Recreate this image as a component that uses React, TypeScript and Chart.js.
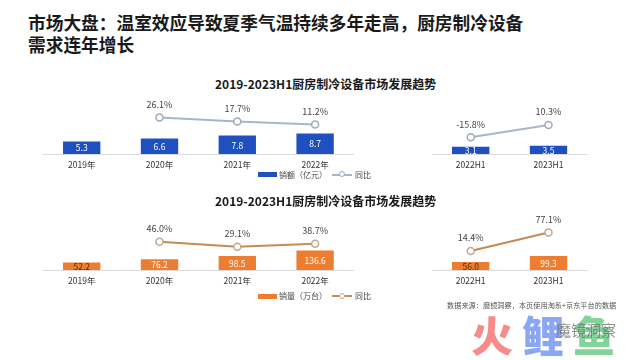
import React, { useEffect, useRef } from 'react';
import { Chart, registerables } from 'chart.js';

Chart.register(...registerables);

const FONT = '"Noto Sans CJK SC", "Noto Sans", sans-serif';

// ---- data ----
const categories = ['2019年', '2020年', '2021年', '2022年', '', '2022H1', '2023H1'];
const panelRanges = [[0, 3], [5, 6]];
const salesValue = [5.3, 6.6, 7.8, 8.7, null, 3.1, 3.5];
const salesValueYoY = [null, 26.1, 17.7, 11.2, null, -15.8, 10.3];
const salesVolume = [52.2, 76.2, 98.5, 136.6, null, 56.0, 99.3];
const salesVolumeYoY = [null, 46.0, 29.1, 38.7, null, 14.4, 77.1];
const valueLabelColors = ['#fff', '#fff', '#fff', '#fff', '#fff', '#fff', '#fff'];
const volumeLabelColors = ['#5a2a08', '#fff', '#fff', '#fff', '#fff', '#5a2a08', '#fff'];

const labelsPlugin = {
  id: 'valueLabels',
  afterDatasetsDraw(chart: any, _args: any, opts: any) {
    const ctx = chart.ctx;
    chart.data.datasets.forEach((ds: any, i: number) => {
      const meta = chart.getDatasetMeta(i);
      meta.data.forEach((el: any, j: number) => {
        const v = ds.data[j];
        if (v == null) return;
        ctx.save();
        ctx.textAlign = 'center';
        ctx.textBaseline = 'middle';
        if (meta.type === 'bar') {
          const p = el.getProps(['x', 'y', 'base'], true);
          ctx.fillStyle = opts.barColors[j];
          ctx.font = `8.5px ${FONT}`;
          ctx.fillText(v.toFixed(1), p.x, (p.y + p.base) / 2 + 0.5);
        } else {
          ctx.fillStyle = '#444';
          ctx.font = `9px ${FONT}`;
          ctx.fillText(v.toFixed(1) + '%', el.x, el.y - 13);
        }
        ctx.restore();
      });
    });
  },
};

const baselinePlugin = {
  id: 'panelBaseline',
  beforeDatasetsDraw(chart: any) {
    const ctx = chart.ctx;
    const x = chart.scales.x;
    const y = chart.scales.yBar.getPixelForValue(0);
    const half = x.width / categories.length / 2;
    ctx.save();
    ctx.strokeStyle = '#dcdcdc';
    ctx.lineWidth = 1;
    panelRanges.forEach(([a, b]) => {
      ctx.beginPath();
      ctx.moveTo(x.getPixelForValue(a) - half, y + 0.5);
      ctx.lineTo(x.getPixelForValue(b) + half, y + 0.5);
      ctx.stroke();
    });
    ctx.restore();
  },
};

function makeConfig(bars: any[], line: any[], barColor: string, lineColor: string, pointBorder: string,
  barMax: number, lineMin: number, lineMax: number, labelColors: string[], barLabel: string) {
  return {
    type: 'bar' as const,
    data: {
      labels: categories,
      datasets: [
        {
          type: 'line' as const,
          label: '同比',
          data: line,
          yAxisID: 'yLine',
          borderColor: lineColor,
          borderWidth: 2,
          pointRadius: 3.5,
          pointBorderWidth: 1.5,
          pointBackgroundColor: '#fff',
          pointBorderColor: pointBorder,
          spanGaps: false,
          order: 0,
        },
        {
          type: 'bar' as const,
          label: barLabel,
          data: bars,
          yAxisID: 'yBar',
          backgroundColor: barColor,
          categoryPercentage: 1,
          barPercentage: 0.48,
          order: 1,
        },
      ],
    },
    options: {
      animation: false,
      responsive: false,
      maintainAspectRatio: false,
      layout: { padding: { left: 42.8, right: 52.6, top: 10, bottom: 0 } },
      plugins: {
        legend: { display: false },
        tooltip: { enabled: false },
        valueLabels: { barColors: labelColors },
      },
      scales: {
        x: {
          type: 'category',
          offset: true,
          grid: { display: false, drawTicks: false },
          border: { display: false },
          ticks: { font: { size: 8.5, family: FONT }, color: '#333', padding: 6, maxRotation: 0, autoSkip: false },
          afterFit: (s: any) => { s.height = 21; },
        },
        yBar: { display: false, min: 0, max: barMax },
        yLine: { display: false, min: lineMin, max: lineMax },
      },
    },
    plugins: [labelsPlugin, baselinePlugin],
  };
}

function ChartCanvas({ config, top, height }: { config: any; top: number; height: number }) {
  const ref = useRef<HTMLCanvasElement>(null);
  useEffect(() => {
    const c = new Chart(ref.current as HTMLCanvasElement, config);
    return () => c.destroy();
  }, []);
  return (
    <canvas ref={ref} width={640} height={height}
      style={{ position: 'absolute', left: 0, top, width: 640, height }} />
  );
}

function Legend({ top, barColor, lineColor, pointBorder, text }: any) {
  return (
    <div style={{ position: 'absolute', left: 0, top: top - 6, height: 12, width: 640, fontFamily: FONT, fontSize: 8, color: '#444' }}>
      <div style={{ position: 'absolute', left: 258, top: 3.5, width: 19, height: 5, background: barColor }} />
      <div style={{ position: 'absolute', left: 279, top: 0, lineHeight: '12px', whiteSpace: 'nowrap' }}>{text}</div>
      <div style={{ position: 'absolute', left: 332, top: 5, width: 20, height: 2, background: lineColor }} />
      <div style={{ position: 'absolute', left: 338.5, top: 2.5, width: 4, height: 4, borderRadius: '50%', background: '#fff', border: `1.5px solid ${pointBorder}` }} />
      <div style={{ position: 'absolute', left: 355, top: 0, lineHeight: '12px', whiteSpace: 'nowrap' }}>同比</div>
    </div>
  );
}

export default function App() {
  const topCfg = makeConfig(salesValue, salesValueYoY, '#1f50c0', '#a8b6ca', '#a0aabb',
    22.88, -51.4, 63.5, valueLabelColors, '销额（亿元）');
  const botCfg = makeConfig(salesVolume, salesVolumeYoY, '#ed7d31', '#c68a52', '#c0a893',
    352, -49.3, 119, volumeLabelColors, '销量（万台）');
  return (
    <div style={{ position: 'absolute', left: 0, top: 0, width: 640, height: 360, background: '#fff', overflow: 'hidden' }}>
      <div style={{ position: 'absolute', left: 28, top: 11, fontFamily: FONT, fontWeight: 700, fontSize: 17.7, lineHeight: '22px', color: '#1a1a1a', whiteSpace: 'nowrap' }}>
        市场大盘：温室效应导致夏季气温持续多年走高，厨房制冷设备<br />需求连年增长
      </div>
      <div style={{ position: 'absolute', left: 215, top: 76, fontFamily: FONT, fontWeight: 700, fontSize: 12, lineHeight: '15px', color: '#1a1a1a', whiteSpace: 'nowrap' }}>
        2019-2023H1厨房制冷设备市场发展趋势
      </div>
      <ChartCanvas config={topCfg} top={90} height={85} />
      <Legend top={174.5} barColor="#1f50c0" lineColor="#a8b6ca" pointBorder="#a0aabb" text="销额（亿元）" />
      <div style={{ position: 'absolute', left: 215, top: 192.5, fontFamily: FONT, fontWeight: 700, fontSize: 12, lineHeight: '15px', color: '#1a1a1a', whiteSpace: 'nowrap' }}>
        2019-2023H1厨房制冷设备市场发展趋势
      </div>
      <ChartCanvas config={botCfg} top={210} height={81} />
      <Legend top={296} barColor="#ed7d31" lineColor="#c68a52" pointBorder="#c0a893" text="销量（万台）" />
      <div style={{ position: 'absolute', left: 447, top: 300, fontFamily: FONT, fontSize: 7.2, lineHeight: '10px', color: '#555', whiteSpace: 'nowrap' }}>
        数据来源：魔镜洞察，本页使用淘系+京东平台的数据
      </div>
      <div style={{ position: 'absolute', left: 471, top: 311, fontFamily: FONT, fontWeight: 900, fontSize: 42, lineHeight: '46px', whiteSpace: 'nowrap', letterSpacing: 9 }}>
        <span style={{ color: 'rgba(242,110,110,0.8)' }}>火</span>
        <span style={{ color: 'rgba(110,145,240,0.8)' }}>鲤</span>
        <span style={{ color: 'rgba(100,200,130,0.8)' }}>鱼</span>
      </div>
      <div style={{ position: 'absolute', left: 556, top: 320, fontFamily: FONT, fontSize: 15, lineHeight: '20px', color: 'rgba(110,110,110,0.75)', whiteSpace: 'nowrap' }}>
        魔镜洞察
      </div>
    </div>
  );
}
